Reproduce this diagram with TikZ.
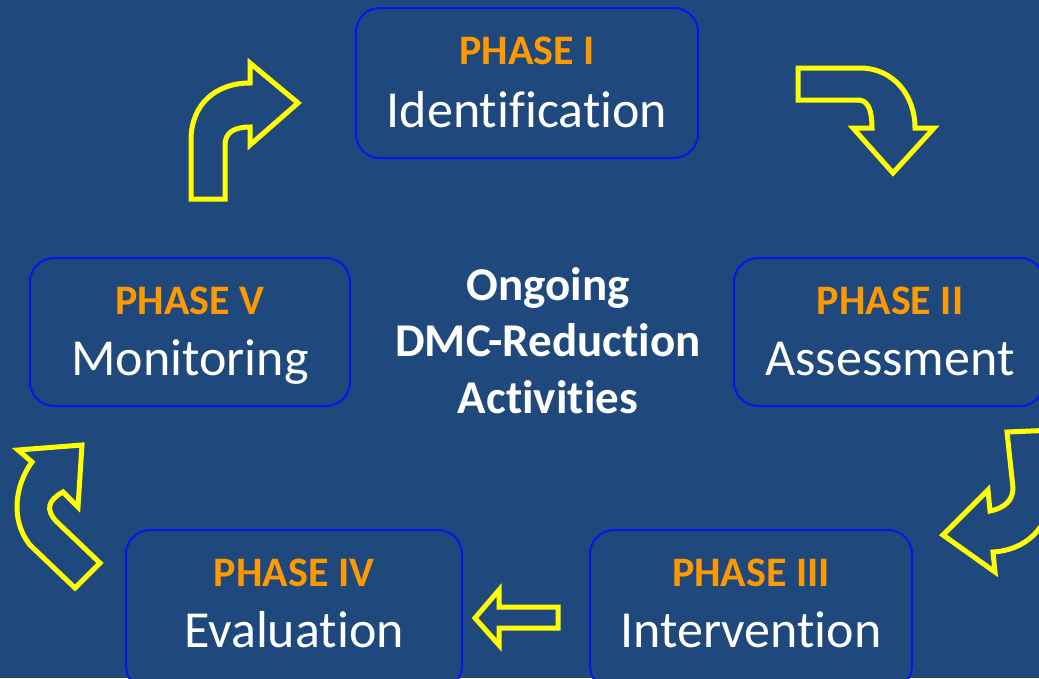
\documentclass[tikz,border=0pt]{standalone}
\usepackage{fontspec}
\setmainfont{Carlito}[Ligatures=NoCommon]
\begin{document}
\begin{tikzpicture}[x=1pt,y=-1pt,
  phasebox/.style={draw=boxblue,line width=2pt,fill=bgblue,rounded corners=24pt},
  phasetitle/.style={anchor=base,text=phaseorange,font=\fontsize{42}{50}\selectfont\bfseries,inner sep=0pt},
  phasename/.style={anchor=base,text=white,font=\fontsize{52}{60}\selectfont,inner sep=0pt},
  centertext/.style={anchor=base,text=white,inner sep=0pt,font=\fontsize{47}{56}\selectfont\bfseries},
  cyclearrow/.style={draw=arrowyellow,line width=5pt,line join=miter,miter limit=10}]
\definecolor{bgblue}{RGB}{31,73,125}
\definecolor{boxblue}{RGB}{10,20,240}
\definecolor{phaseorange}{RGB}{255,153,0}
\definecolor{arrowyellow}{RGB}{255,255,0}
\useasboundingbox (0,0) rectangle (1039,678);
\fill[bgblue] (0,0) rectangle (1039,678);
% boxes
\draw[phasebox] (356,8) rectangle (698,158);
\draw[phasebox] (734,258) rectangle (1044,406);
\draw[phasebox] (30,258) rectangle (350,406);
\draw[phasebox] (126,530) rectangle (462,690);
\draw[phasebox] (590,530) rectangle (912,690);
% texts
\node[phasetitle] (t1) at (527,64) {PHASE I};
\node[phasename] (n1) at (527,127) {Identification};
\node[phasetitle] (t2) at (890,314) {PHASE II};
\node[phasename] (n2) at (890,375) {Assessment};
\node[phasetitle] (t5) at (190,314) {PHASE V};
\node[phasename] (n5) at (190,375) {Monitoring};
\node[phasetitle] (t4) at (294,586) {PHASE IV};
\node[phasename] (n4) at (294,647) {Evaluation};
\node[phasetitle] (t3) at (751,586) {PHASE III};
\node[phasename] (n3) at (751,647) {Intervention};
\node[centertext] (c1) at (548,300) {Ongoing};
\node[centertext] (c2) at (548,356) {DMC-Reduction};
\node[centertext] (c3) at (548,413) {Activities};
% arrows
\draw[cyclearrow] (191,199) -- (191,140) .. controls (191,105) and (215,83) .. (250,83)
  -- (250,63) -- (298,103) -- (250,145) -- (250,127)
  .. controls (235,127) and (225,132) .. (225,145) -- (225,199) -- cycle;
\draw[cyclearrow] (798,68) -- (860,68) .. controls (893,68) and (915,95) .. (915,128)
  -- (934,128) -- (893,173) -- (853,128) -- (872,128)
  .. controls (872,110) and (868,100) .. (858,100) -- (798,100) -- cycle;
\draw[cyclearrow] (1007,432) -- (1055,430) -- (1055,490)
  .. controls (1048,530) and (1025,550) .. (993,552)
  -- (995,572) -- (943,535) -- (988,490) -- (990,511)
  .. controls (1005,508) and (1013,500) .. (1013,488) -- cycle;
\draw[cyclearrow] (82,445) -- (18,450) -- (32,462)
  .. controls (15,485) and (10,520) .. (30,545)
  -- (75,588) -- (100,563) -- (57,522)
  .. controls (45,510) and (48,500) .. (63,492) -- (78,507) -- cycle;
\draw[cyclearrow] (475,618) -- (499,590) -- (499,607) -- (558,607) -- (558,628)
  -- (499,628) -- (499,645) -- cycle;
\end{tikzpicture}
\end{document}
